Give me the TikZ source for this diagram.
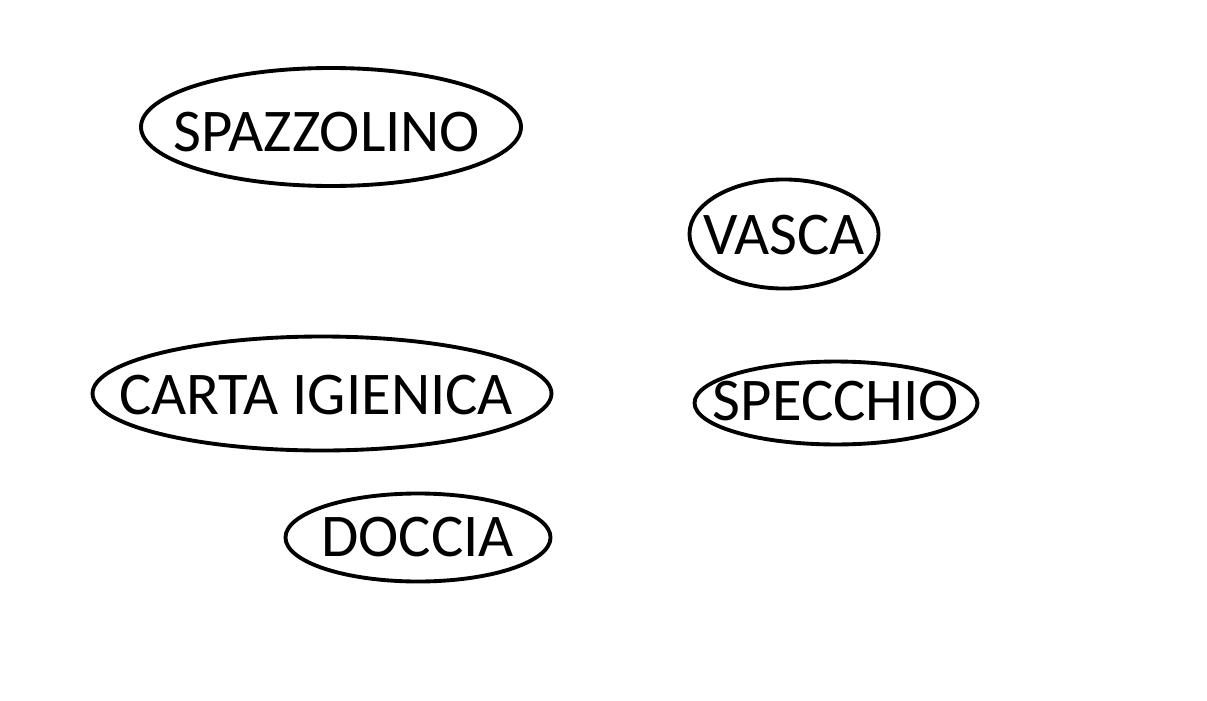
\documentclass[tikz,border=0pt]{standalone}
\usepackage{fontspec}
\setmainfont{Carlito}

\begin{document}
\begin{tikzpicture}[
    x=0.75pt, y=-0.75pt,
    testo/.style={inner sep=0pt, font=\fontsize{45.5}{50}\selectfont},
    bordo/.style={draw=black, line width=2.9pt}
]

% ===== Bordo =====
\useasboundingbox (0, 0) rectangle (1207, 700);

% ===== Oggetti del bagno =====
\node[testo] (spazzolino) at (327, 132) {SPAZZOLINO};
\node[testo] (vasca) at (784, 235) {VASCA};
\node[testo] (carta) at (316, 395) {CARTA IGIENICA};
\node[testo] (specchio) at (836, 401.5) {SPECCHIO};
\node[testo] (doccia) at (417.5, 537) {DOCCIA};

% ellissi intorno alle parole
\draw[bordo] (331, 127) ellipse [x radius=142.5pt, y radius=44.25pt];
\draw[bordo] (784, 234) ellipse [x radius=70.9pt, y radius=40.9pt];
\draw[bordo] (322, 393.5) ellipse [x radius=172.1pt, y radius=42.75pt];
\draw[bordo] (836, 403) ellipse [x radius=106.1pt, y radius=31.1pt];
\draw[bordo] (418, 537.5) ellipse [x radius=99.4pt, y radius=33pt];

\end{tikzpicture}
\end{document}
